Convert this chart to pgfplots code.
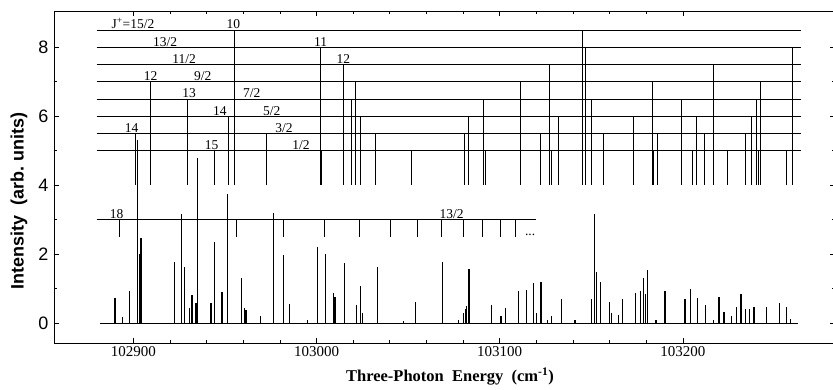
\documentclass[border=0pt]{standalone}
\usepackage{fontspec}
\setmainfont{Liberation Serif}
\setsansfont{Liberation Sans}
\usepackage{pgfplots}
\usepackage{pgfplotstable}
\pgfplotsset{compat=1.18}

% upper level diagram: vertical lines from level y down to 4.0
\pgfplotstableread{
x y
102955.1 8.5
103145.3 8.5
103002.3 8.0
103146.6 8.0
103259.7 8.0
103014.6 7.5
103127.1 7.5
103216.6 7.5
102909.3 7.0
103021.3 7.0
103111.1 7.0
103183.3 7.0
103242.1 7.0
102929.7 6.5
103019.2 6.5
103091.0 6.5
103150.2 6.5
103199.3 6.5
103240.3 6.5
102951.9 6.0
103024.1 6.0
103082.9 6.0
103132.2 6.0
103173.0 6.0
103207.5 6.0
103237.6 6.0
102900.9 5.5
102972.8 5.5
103031.9 5.5
103080.5 5.5
103122.0 5.5
103156.7 5.5
103186.0 5.5
103211.8 5.5
103234.1 5.5
102944.1 5.0
103002.7 5.0
103052.0 5.0
103092.4 5.0
103127.9 5.0
103183.8 5.0
103205.1 5.0
103224.3 5.0
103241.2 5.0
103256.4 5.0
}\levelticks

% lower series: ticks from 3.0 down to 2.5
\pgfplotstableread{
x y
102892.2 3.0
102956.1 3.0
102981.9 3.0
103004.3 3.0
103023.3 3.0
103040.1 3.0
103054.9 3.0
103068.0 3.0
103080.0 3.0
103090.5 3.0
103100.2 3.0
103108.7 3.0
}\lowticks

% spectrum peaks
\pgfplotstableread{
x h
102890.0 0.74
102894.0 0.19
102897.7 0.95
102902.2 5.30
102903.4 2.00
102904.2 2.46
102922.4 1.79
102926.4 3.16
102927.8 1.64
102930.9 0.43
102932.0 0.82
102934.2 0.60
102935.2 4.78
102942.4 0.60
102944.2 2.37
102948.4 0.92
102951.5 3.75
102959.2 1.32
102960.6 0.43
102961.5 0.38
102969.5 0.20
102976.4 3.21
102982.1 1.98
102985.2 0.55
102995.2 0.10
103000.7 2.22
103004.8 2.00
103009.2 0.87
103010.1 0.77
103015.2 1.76
103021.9 0.53
103024.1 1.08
103025.2 0.30
103033.4 1.62
103047.4 0.07
103053.8 0.61
103068.9 1.79
103077.4 0.10
103080.0 0.30
103081.1 0.40
103082.0 0.50
103083.2 1.56
103095.6 0.53
103100.7 0.20
103102.9 0.45
103110.2 0.94
103114.7 0.96
103118.3 1.18
103120.2 0.30
103122.5 1.20
103126.0 0.10
103128.4 0.20
103133.5 0.69
103141.1 0.10
103150.2 0.69
103151.6 3.16
103153.0 1.50
103155.1 1.20
103159.8 0.63
103161.1 0.30
103164.7 0.25
103167.1 0.69
103173.9 0.89
103176.6 0.95
103178.4 1.30
103179.7 0.85
103180.8 1.55
103185.3 0.10
103190.2 0.95
103201.1 0.69
103204.3 0.98
103208.1 0.72
103212.1 0.53
103216.6 0.10
103219.7 0.75
103222.4 0.33
103226.6 0.20
103229.4 0.48
103231.7 0.85
103233.9 0.40
103236.2 0.42
103238.8 0.47
103245.4 0.47
103252.5 0.60
103256.7 0.47
103258.5 0.12
}\peaks

\begin{document}
\begin{tikzpicture}
\begin{axis}[
  at={(0,0)}, anchor=south west,
  scale only axis, width=781pt, height=332pt,
  xmin=102856.7, xmax=103283.0, ymin=-0.571, ymax=9.052,
  xtick={102900,103000,103100,103200},
  xticklabels={102900,103000,103100,103200},
  scaled x ticks=false,
  minor x tick num=4,
  ytick={0,2,4,6,8}, minor y tick num=1,
  tick align=inside,
  major tick length=5pt, minor tick length=3pt,
  axis line style={line width=0.8pt},
  every tick/.style={black, line width=0.7pt},
  /pgf/number format/assume math mode=true,
  xticklabel style={font=\fontsize{15}{18}\selectfont},
  yticklabel style={font=\sffamily\fontsize{18}{20}\selectfont, xshift=-2pt},
  xlabel={\bfseries Three-Photon\ \ Energy\ \ (cm\textsuperscript{-1})},
  xlabel style={font=\fontsize{16.5}{19}\selectfont, at={(axis description cs:0.507,-0.102)}, anchor=center},
  ylabel={\bfseries\sffamily Intensity\ \ (arb.\ units)},
  ylabel style={font=\fontsize{18}{20}\selectfont, at={(axis description cs:-0.0448,0.428)}, anchor=center},
  clip=false,
]
% spectrum baseline and peaks
\addplot[black, line width=0.9pt] coordinates {(102881.8,0) (103263,0)};
\addplot[black, ycomb, line width=1.1pt, mark=none] table[x=x, y=h] {\peaks};

% level lines
\addplot[black, line width=0.7pt] coordinates {(102880,8.5) (103264.5,8.5)};
\addplot[black, line width=0.7pt] coordinates {(102880,8.0) (103264.5,8.0)};
\addplot[black, line width=0.7pt] coordinates {(102880,7.5) (103264.5,7.5)};
\addplot[black, line width=0.7pt] coordinates {(102880,7.0) (103264.5,7.0)};
\addplot[black, line width=0.7pt] coordinates {(102880,6.5) (103264.5,6.5)};
\addplot[black, line width=0.7pt] coordinates {(102880,6.0) (103264.5,6.0)};
\addplot[black, line width=0.7pt] coordinates {(102880,5.5) (103264.5,5.5)};
\addplot[black, line width=0.7pt] coordinates {(102880,5.0) (103264.5,5.0)};
\addplot[black, line width=0.7pt] coordinates {(102880,3.0) (103119.8,3.0)};

% vertical level ticks
\addplot[black, only marks, mark size=0pt, mark options={draw=none, fill=none},
  error bars/.cd, y dir=minus, y explicit, error mark=none,
  error bar style={line width=0.7pt, black}]
  table[x=x, y=y, y error minus expr=\thisrow{y}-4.0] {\levelticks};
\addplot[black, only marks, mark size=0pt, mark options={draw=none, fill=none},
  error bars/.cd, y dir=minus, y explicit, error mark=none,
  error bar style={line width=0.7pt, black}]
  table[x=x, y=y, y error minus expr=0.5] {\lowticks};

% labels
\begin{scope}[every node/.style={anchor=south, inner sep=0.8pt, font=\fontsize{13.5}{15}\selectfont}]
\node at (axis cs:102899.8,8.5) {J\textsuperscript{+}=15/2};
\node at (axis cs:102917.3,8.0) {13/2};
\node at (axis cs:102927.7,7.5) {11/2};
\node at (axis cs:102937.9,7.0) {9/2};
\node at (axis cs:102964.6,6.5) {7/2};
\node at (axis cs:102975.5,6.0) {5/2};
\node at (axis cs:102982.3,5.5) {3/2};
\node at (axis cs:102991.5,5.0) {1/2};
\node at (axis cs:102909.5,7.0) {12};
\node at (axis cs:102930.4,6.5) {13};
\node at (axis cs:102947.3,6.0) {14};
\node at (axis cs:102899.1,5.5) {14};
\node at (axis cs:102942.8,5.0) {15};
\node at (axis cs:102954.6,8.5) {10};
\node at (axis cs:103002.3,8.0) {11};
\node at (axis cs:103014.6,7.5) {12};
\node at (axis cs:102890.9,3.0) {18};
\node at (axis cs:103073.8,3.0) {13/2};
\node at (axis cs:103116.6,2.5) {...};
\end{scope}
\end{axis}
\pgfresetboundingbox
\path[use as bounding box] (-54pt,-47pt) rectangle (779pt,343pt);
\end{tikzpicture}
\end{document}
